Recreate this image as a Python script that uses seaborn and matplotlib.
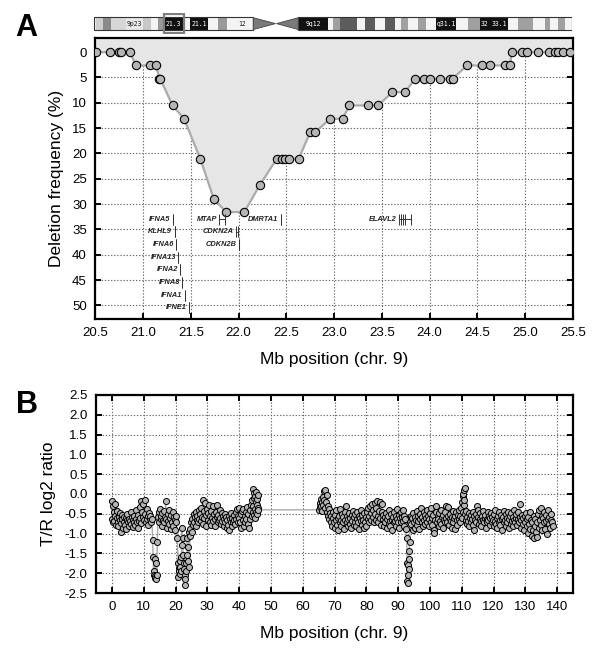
import numpy as np
import pandas as pd
import matplotlib
matplotlib.use("Agg")
import matplotlib.pyplot as plt
import seaborn as sns
from matplotlib.patches import Polygon, Rectangle
from matplotlib.ticker import FormatStrFormatter

# ---- panel A: deletion frequency across 9p21 ----
pos_a = [20.51, 20.65, 20.75, 20.77, 20.86, 20.93, 21.07, 21.14, 21.17, 21.18,
         21.31, 21.43, 21.60, 21.74, 21.87, 22.06, 22.22, 22.40, 22.45, 22.49,
         22.53, 22.63, 22.75, 22.80, 22.96, 23.09, 23.16, 23.35, 23.46, 23.61,
         23.74, 23.85, 23.94, 24.00, 24.11, 24.21, 24.24, 24.39, 24.55, 24.63,
         24.79, 24.84, 24.86, 24.97, 25.02, 25.13, 25.25, 25.31, 25.34, 25.40,
         25.47]
freq_a = [0, 0, 0, 0, 0, 2.63, 2.63, 2.63, 5.26, 5.26,
          10.53, 13.16, 21.05, 28.95, 31.58, 31.58, 26.32, 21.05, 21.05, 21.05,
          21.05, 21.05, 15.79, 15.79, 13.16, 13.16, 10.53, 10.53, 10.53, 7.89,
          7.89, 5.26, 5.26, 5.26, 5.26, 5.26, 5.26, 2.63, 2.63, 2.63,
          2.63, 2.63, 0, 0, 0, 0, 0, 0, 0, 0,
          0]

gene_name = ["IFNA5", "KLHL9", "IFNA6", "IFNA13", "IFNA2", "IFNA8", "IFNA1", "IFNE1",
             "MTAP", "CDKN2A", "CDKN2B", "DMRTA1", "ELAVL2"]
gene_start = [21.31, 21.33, 21.35, 21.37, 21.39, 21.41, 21.44, 21.48,
              21.80, 21.97, 22.00, 22.44, 23.68]
gene_end = [21.31, 21.33, 21.35, 21.37, 21.39, 21.41, 21.44, 21.48,
            21.86, 21.99, 22.00, 22.44, 23.80]
gene_row = [33.0, 35.5, 38.0, 40.5, 43.0, 45.5, 48.0, 50.5,
            33.0, 35.5, 38.0, 33.0, 33.0]
elavl2_exons = [23.70, 23.72, 23.74]

# ---- chromosome 9 ideogram (drawing units along the bar) ----
band_start = [0, 6, 28, 50, 96, 148, 172, 193, 208, 212, 266, 288, 343, 373, 398, 428, 460,
              613, 703, 718, 738, 788, 813, 843, 873, 903, 923, 943, 973, 998, 1028, 1088,
              1123, 1158, 1188, 1243, 1273, 1318, 1353, 1368, 1393, 1413]
band_end = [6, 28, 50, 96, 148, 172, 193, 208, 212, 266, 288, 343, 373, 398, 428, 460, 478,
            703, 718, 738, 788, 813, 843, 873, 903, 923, 943, 973, 998, 1028, 1088, 1123,
            1158, 1188, 1243, 1273, 1318, 1353, 1368, 1393, 1413, 1435]
band_color = ["#f4f4f4", "#cfcfcf", "#8a8a8a", "#d6d6d6", "#e8e8e8", "#c8c8c8", "#f4f4f4",
              "#9a9a9a", "#f4f4f4", "#111111", "#f4f4f4", "#111111", "#f4f4f4", "#9a9a9a",
              "#f4f4f4", "#f4f4f4", "#f4f4f4",
              "#111111", "#f4f4f4", "#a0a0a0", "#5c5c5c", "#f4f4f4", "#5c5c5c", "#f4f4f4",
              "#5c5c5c", "#f4f4f4", "#a0a0a0", "#f4f4f4", "#a0a0a0", "#f4f4f4", "#111111",
              "#f4f4f4", "#a0a0a0", "#111111", "#111111", "#f4f4f4", "#a0a0a0", "#f4f4f4",
              "#a0a0a0", "#f4f4f4", "#a0a0a0", "#f4f4f4"]
band_label = ["", "", "", "", "9p23", "", "", "", "", "21.3", "", "21.1", "", "", "", "12", "",
              "9q12", "", "", "", "", "", "", "", "", "", "", "", "", "q31.1", "",
              "", "32", "33.1", "", "", "", "", "", "", ""]
p_arm_end = 478
q_arm_start = 613
ideo_end = 1435

# ---- panel B: whole chromosome 9 log2 ratios ----
seg_p1 = [(0.0, -0.18), (0.1, -0.62), (0.3, -0.30), (0.4, -0.72), (0.6, -0.45), (0.8, -0.68),
          (1.0, -0.25), (1.1, -0.55), (1.3, -0.78), (1.5, -0.60), (1.7, -0.42), (1.9, -0.70),
          (2.0, -0.82), (2.2, -0.58), (2.4, -0.65), (2.6, -0.48), (2.8, -0.74), (3.0, -0.95),
          (3.1, -0.52), (3.3, -0.63), (3.5, -0.85), (3.7, -0.70), (3.9, -0.57), (4.1, -0.78),
          (4.3, -0.60), (4.5, -0.88), (4.7, -0.66), (4.9, -0.50), (5.1, -0.72), (5.3, -0.62),
          (5.5, -0.80), (5.7, -0.68), (5.9, -0.45), (6.1, -0.75), (6.3, -0.58), (6.5, -0.84),
          (6.7, -0.66), (6.9, -0.72), (7.1, -0.55), (7.3, -0.79), (7.5, -0.63), (7.7, -0.40),
          (7.9, -0.70), (8.1, -0.86), (8.3, -0.52), (8.5, -0.68), (8.7, -0.33), (8.9, -0.60),
          (9.1, -0.18), (9.3, -0.74), (9.5, -0.45), (9.7, -0.26), (9.9, -0.58), (10.1, -0.66),
          (10.3, -0.15), (10.5, -0.50), (10.7, -0.72), (10.9, -0.38), (11.1, -0.62), (11.3, -0.55),
          (11.5, -0.78), (11.7, -0.48), (11.9, -0.64), (12.1, -0.56), (12.3, -0.70)]
dip_1 = [(12.6, -0.62), (12.8, -1.15), (13.0, -1.60), (13.1, -1.95), (13.2, -2.05), (13.4, -1.65),
         (13.5, -2.08), (13.7, -2.12), (13.8, -2.15), (14.0, -1.75), (14.1, -2.05), (14.3, -1.20),
         (14.5, -0.58)]
seg_p2 = [(14.7, -0.45), (14.9, -0.70), (15.1, -0.38), (15.3, -0.62), (15.5, -0.55), (15.7, -0.80),
          (15.9, -0.48), (16.1, -0.66), (16.3, -0.42), (16.5, -0.72), (16.7, -0.58), (16.9, -0.17),
          (17.1, -0.62), (17.3, -0.85), (17.5, -0.50), (17.7, -0.68), (17.9, -0.40), (18.1, -0.75),
          (18.3, -0.60), (18.5, -0.88), (18.7, -0.52), (18.9, -0.70), (19.1, -0.46), (19.3, -0.82),
          (19.5, -0.58), (19.7, -0.66), (19.9, -0.90), (20.1, -0.55), (20.3, -0.72)]
dip_2 = [(20.6, -1.10), (20.8, -1.75), (20.9, -2.10), (21.0, -1.88), (21.2, -1.95), (21.3, -2.02),
         (21.4, -1.70), (21.5, -1.85), (21.7, -1.60), (21.8, -1.95), (22.0, -0.85), (22.1, -1.30),
         (22.3, -1.10), (22.4, -1.55), (22.6, -1.75), (22.7, -1.90), (22.9, -2.05), (23.0, -2.30),
         (23.1, -2.15), (23.3, -1.95), (23.4, -1.75), (23.6, -1.55), (23.7, -1.10), (23.9, -1.70),
         (24.0, -1.35), (24.2, -0.95), (24.4, -1.85), (24.5, -1.05), (24.7, -0.88), (24.9, -0.70)]
seg_p3 = [(25.1, -0.95), (25.3, -0.62), (25.5, -0.78), (25.7, -0.50), (25.9, -0.70), (26.1, -0.58),
          (26.3, -0.82), (26.5, -0.45), (26.7, -0.66), (26.9, -0.55), (27.1, -0.72), (27.3, -0.40),
          (27.5, -0.62), (27.7, -0.50), (27.9, -0.68), (28.1, -0.35), (28.3, -0.58), (28.5, -0.15),
          (28.7, -0.75), (28.9, -0.42), (29.1, -0.60), (29.3, -0.22), (29.5, -0.52), (29.7, -0.80),
          (29.9, -0.38), (30.1, -0.65), (30.3, -0.48), (30.5, -0.28), (30.7, -0.70), (30.9, -0.55),
          (31.1, -0.42), (31.3, -0.78), (31.5, -0.60), (31.7, -0.30), (31.9, -0.68), (32.1, -0.50),
          (32.3, -0.62), (32.5, -0.82), (32.7, -0.45), (32.9, -0.58), (33.1, -0.28), (33.3, -0.72),
          (33.5, -0.52), (33.7, -0.65), (33.9, -0.40), (34.1, -0.60), (34.3, -0.75), (34.5, -0.48),
          (34.7, -0.68), (34.9, -0.55), (35.1, -0.82), (35.3, -0.62), (35.5, -0.50), (35.7, -0.70),
          (35.9, -0.58), (36.1, -0.85), (36.3, -0.66), (36.5, -0.78), (36.7, -0.55), (36.9, -0.90),
          (37.1, -0.62), (37.3, -0.72), (37.5, -0.48), (37.7, -0.80), (37.9, -0.60), (38.1, -0.70),
          (38.3, -0.52), (38.5, -0.65), (38.7, -0.75), (38.9, -0.45), (39.1, -0.62), (39.3, -0.38),
          (39.5, -0.70), (39.7, -0.55), (39.9, -0.60), (40.1, -0.35), (40.3, -0.72), (40.5, -0.50),
          (40.7, -0.85), (40.9, -0.42), (41.1, -0.66), (41.3, -0.38), (41.5, -0.80), (41.7, -0.55),
          (41.9, -0.70), (42.1, -0.45), (42.3, -0.62), (42.5, -0.32), (42.7, -0.75), (42.9, -0.50),
          (43.1, -0.85), (43.3, -0.40), (43.5, -0.62), (43.7, -0.28), (43.9, -0.55), (44.1, -0.15),
          (44.3, -0.45), (44.4, 0.12), (44.5, -0.30), (44.6, 0.02), (44.7, -0.52), (44.8, -0.10),
          (44.9, -0.38), (45.0, -0.05), (45.1, -0.60), (45.2, -0.20), (45.3, -0.45), (45.4, 0.05),
          (45.5, -0.28), (45.6, -0.12), (45.7, -0.50), (45.8, -0.02), (45.9, -0.35), (46.0, -0.40)]
seg_q1 = [(65.2, -0.40), (65.3, -0.22), (65.5, -0.32), (65.6, -0.12), (65.8, -0.30), (66.0, -0.20),
          (66.1, -0.42), (66.3, -0.08), (66.5, -0.28), (66.6, -0.15), (66.8, 0.08), (67.0, -0.35),
          (67.1, 0.10), (67.3, -0.20), (67.5, -0.45), (67.6, -0.02), (67.8, -0.30), (68.0, -0.55),
          (68.2, -0.38), (68.4, -0.62), (68.6, -0.48), (68.8, -0.72), (69.0, -0.55), (69.2, -0.80),
          (69.4, -0.60), (69.6, -0.45), (69.8, -0.70), (70.0, -0.85), (70.2, -0.52), (70.4, -0.65),
          (70.6, -0.40), (70.8, -0.78), (71.0, -0.60), (71.2, -0.90), (71.4, -0.55), (71.6, -0.72),
          (71.8, -0.38), (72.0, -0.66), (72.2, -0.82), (72.4, -0.50), (72.6, -0.70), (72.8, -0.58),
          (73.0, -0.88), (73.2, -0.45), (73.4, -0.65), (73.6, -0.30), (73.8, -0.72), (74.0, -0.55),
          (74.2, -0.80), (74.4, -0.62), (74.6, -0.48), (74.8, -0.75), (75.0, -0.60), (75.2, -0.85),
          (75.4, -0.52), (75.6, -0.68), (75.8, -0.42), (76.0, -0.78), (76.2, -0.58), (76.4, -0.70),
          (76.6, -0.50), (76.8, -0.82), (77.0, -0.62), (77.2, -0.45), (77.4, -0.72), (77.6, -0.55),
          (77.8, -0.88), (78.0, -0.60), (78.2, -0.40), (78.4, -0.68), (78.6, -0.78), (78.8, -0.52),
          (79.0, -0.65), (79.2, -0.85), (79.4, -0.48), (79.6, -0.70), (79.8, -0.58), (80.0, -0.80),
          (80.2, -0.45), (80.4, -0.62), (80.6, -0.35), (80.8, -0.72), (81.0, -0.55), (81.2, -0.30),
          (81.4, -0.66), (81.6, -0.48), (81.8, -0.25), (82.0, -0.58), (82.2, -0.40), (82.4, -0.72),
          (82.6, -0.22), (82.8, -0.50), (83.0, -0.65), (83.2, -0.35), (83.4, -0.18), (83.6, -0.55),
          (83.8, -0.70), (84.0, -0.42), (84.2, -0.20), (84.4, -0.60), (84.6, -0.78), (84.8, -0.45),
          (85.0, -0.25), (85.2, -0.62), (85.4, -0.52), (85.6, -0.80), (85.8, -0.58), (86.0, -0.70),
          (86.2, -0.48), (86.4, -0.85), (86.6, -0.62), (86.8, -0.55), (87.0, -0.75), (87.2, -0.40),
          (87.4, -0.68), (87.6, -0.82), (87.8, -0.50), (88.0, -0.65), (88.2, -0.92), (88.4, -0.58),
          (88.6, -0.72), (88.8, -0.45), (89.0, -0.68), (89.2, -0.55), (89.4, -0.80), (89.6, -0.62),
          (89.8, -0.38), (90.0, -0.70), (90.2, -0.52), (90.4, -0.85), (90.6, -0.60), (90.8, -0.45),
          (91.0, -0.72), (91.2, -0.58), (91.4, -0.40), (91.6, -0.68), (91.8, -0.80), (92.0, -0.55),
          (92.2, -0.62), (92.4, -0.88)]
dip_3 = [(92.7, -1.10), (92.8, -1.75), (92.9, -2.20), (93.0, -2.05), (93.1, -1.80), (93.2, -2.25),
         (93.3, -1.90), (93.4, -1.65), (93.5, -1.45), (93.6, -1.20), (93.8, -0.70)]
seg_q2 = [(94.0, -0.55), (94.2, -0.75), (94.4, -0.60), (94.6, -0.90), (94.8, -0.48), (95.0, -0.70),
          (95.2, -0.85), (95.4, -0.58), (95.6, -0.65), (95.8, -0.42), (96.0, -0.78), (96.2, -0.55),
          (96.4, -0.68), (96.6, -0.88), (96.8, -0.50), (97.0, -0.62), (97.2, -0.35), (97.4, -0.72),
          (97.6, -0.58), (97.8, -0.80), (98.0, -0.45), (98.2, -0.66), (98.4, -0.52), (98.6, -0.75),
          (98.8, -0.60), (99.0, -0.40), (99.2, -0.70), (99.4, -0.55), (99.6, -0.82), (99.8, -0.62),
          (100.0, -0.48), (100.2, -0.72), (100.4, -0.35), (100.6, -0.60), (100.8, -0.78), (101.0, -0.52),
          (101.2, -0.90), (101.4, -0.98), (101.6, -0.65), (101.8, -0.45), (102.0, -0.30), (102.2, -0.70),
          (102.4, -0.55), (102.6, -0.62), (102.8, -0.80), (103.0, -0.48), (103.2, -0.68), (103.4, -0.40),
          (103.6, -0.75), (103.8, -0.58), (104.0, -0.85), (104.2, -0.52), (104.4, -0.65), (104.6, -0.72),
          (104.8, -0.45), (105.0, -0.60), (105.2, -0.30), (105.4, -0.70), (105.6, -0.55), (105.8, -0.32),
          (106.0, -0.78), (106.2, -0.62), (106.4, -0.50), (106.6, -0.68), (106.8, -0.85), (107.0, -0.58),
          (107.2, -0.42), (107.4, -0.72), (107.6, -0.60), (107.8, -0.88), (108.0, -0.55), (108.2, -0.45),
          (108.4, -0.66), (108.6, -0.78), (108.8, -0.52), (109.0, -0.62), (109.2, -0.40), (109.4, -0.70),
          (109.6, -0.55), (109.8, -0.35), (110.0, -0.60), (110.2, -0.20), (110.3, -0.05), (110.4, -0.45),
          (110.5, 0.00), (110.6, -0.28), (110.7, 0.10), (110.8, -0.15), (110.9, 0.15), (111.0, -0.50),
          (111.2, -0.65), (111.4, -0.42), (111.6, -0.75), (111.8, -0.58), (112.0, -0.68), (112.2, -0.48),
          (112.4, -0.82), (112.6, -0.60), (112.8, -0.52), (113.0, -0.72), (113.2, -0.62), (113.4, -0.45),
          (113.6, -0.78), (113.8, -0.55), (114.0, -0.90), (114.2, -0.65), (114.4, -0.50), (114.6, -0.70),
          (114.8, -0.30), (115.0, -0.58), (115.2, -0.40), (115.4, -0.75), (115.6, -0.62), (115.8, -0.48),
          (116.0, -0.68), (116.2, -0.80), (116.4, -0.55), (116.6, -0.65), (116.8, -0.42), (117.0, -0.72),
          (117.2, -0.60), (117.4, -0.52), (117.6, -0.85), (117.8, -0.62), (118.0, -0.70), (118.2, -0.45),
          (118.4, -0.66), (118.6, -0.55), (118.8, -0.78), (119.0, -0.60), (119.2, -0.48), (119.4, -0.72),
          (119.6, -0.58), (119.8, -0.65), (120.0, -0.82), (120.2, -0.50), (120.4, -0.68), (120.6, -0.40),
          (120.8, -0.75), (121.0, -0.60), (121.2, -0.85), (121.4, -0.55), (121.6, -0.70), (121.8, -0.45),
          (122.0, -0.65), (122.2, -0.78), (122.4, -0.52), (122.6, -0.62), (122.8, -0.90), (123.0, -0.58),
          (123.2, -0.42), (123.4, -0.72), (123.6, -0.66), (123.8, -0.50), (124.0, -0.80), (124.2, -0.60),
          (124.4, -0.70), (124.6, -0.45), (124.8, -0.85), (125.0, -0.62), (125.2, -0.55), (125.4, -0.75),
          (125.6, -0.48), (125.8, -0.68), (126.0, -0.58), (126.2, -0.82), (126.4, -0.65), (126.6, -0.40),
          (126.8, -0.72), (127.0, -0.60), (127.2, -0.50), (127.4, -0.78), (127.6, -0.62), (127.8, -0.45),
          (128.0, -0.70), (128.2, -0.25), (128.4, -0.58), (128.6, -0.85), (128.8, -0.66), (129.0, -0.52),
          (129.2, -0.75), (129.4, -0.60), (129.6, -0.92), (129.8, -0.55), (130.0, -0.70), (130.2, -0.48),
          (130.4, -0.82), (130.6, -0.62), (130.8, -0.98), (131.0, -0.58), (131.2, -0.75), (131.4, -0.45),
          (131.6, -0.88), (131.8, -0.66), (132.0, -1.05), (132.2, -0.72), (132.4, -0.90), (132.6, -0.55),
          (132.8, -1.10), (133.0, -0.80), (133.2, -0.62), (133.4, -0.95), (133.6, -1.08), (133.8, -0.70),
          (134.0, -0.50), (134.2, -0.85), (134.4, -0.40), (134.6, -0.65), (134.8, -0.35), (135.0, -0.78),
          (135.2, -0.55), (135.4, -0.92), (135.6, -0.60), (135.8, -0.45), (136.0, -0.72), (136.2, -0.88),
          (136.4, -0.52), (136.6, -0.68), (136.8, -1.00), (137.0, -0.62), (137.2, -0.40), (137.4, -0.75),
          (137.6, -0.58), (137.8, -0.85), (138.0, -0.65), (138.2, -0.50), (138.4, -0.70), (138.6, -0.80)]


sns.set_style("ticks")
plt.rcParams["font.family"] = ["Liberation Sans", "DejaVu Sans"]
plt.rcParams["axes.unicode_minus"] = False
plt.rcParams["text.color"] = "black"
plt.rcParams["axes.labelcolor"] = "black"

fig = plt.figure(figsize=(6, 6.56), dpi=100)

point_face = "#b5b5b5"
line_gray = "#ababab"


def style_axes(ax):
    ax.grid(True, linestyle=(0, (1.2, 1.6)), color="#6a6a6a", linewidth=0.8)
    ax.set_axisbelow(True)
    ax.tick_params(direction="in", top=True, right=True, length=4, width=1.4,
                   labelsize=9.5, pad=6, colors="black")
    for sp in ax.spines.values():
        sp.set_linewidth(1.6)
        sp.set_color("black")


# ---------- ideogram ----------
ax_i = fig.add_axes([0.1567, 0.948, 0.7967, 0.032])
ax_i.barh(0.5, np.array(band_end) - np.array(band_start), left=band_start, height=1,
          color=band_color, edgecolor="none")
for s, e, c, lab in zip(band_start, band_end, band_color, band_label):
    if lab:
        tc = "white" if c == "#111111" else "#222222"
        ax_i.text((s + e) / 2, 0.5, lab, ha="center", va="center", fontsize=4.7,
                  color=tc, family="DejaVu Sans Mono")
ax_i.add_patch(Rectangle((0, 0), p_arm_end, 1, fill=False, ec="#333333", lw=0.8))
ax_i.add_patch(Rectangle((q_arm_start, 0), ideo_end - q_arm_start, 1, fill=False,
                         ec="#333333", lw=0.8))
ax_i.add_patch(Polygon([(p_arm_end, 0.05), (p_arm_end, 0.95), (545, 0.5)],
                       closed=True, fc="#7a7a7a", ec="#444444", lw=0.6))
ax_i.add_patch(Polygon([(548, 0.5), (q_arm_start, 0.05), (q_arm_start, 0.95)],
                       closed=True, fc="#7a7a7a", ec="#444444", lw=0.6))
ax_i.add_patch(Rectangle((209, -0.25), 60, 1.5, fill=False, ec="#7d7d7d", lw=1.6))
ax_i.set_xlim(0, ideo_end)
ax_i.set_ylim(-0.3, 1.3)
ax_i.axis("off")

# ---------- panel A ----------
ax_a = fig.add_axes([0.1587, 0.5137, 0.7963, 0.4284])
df_a = pd.DataFrame({"pos": pos_a, "freq": freq_a})
xa0, xa1 = 20.5, 25.5
ya_top, ya_bot = -2.8, 52.7
ax_a.fill_between(np.r_[xa0, df_a["pos"], xa1], ya_top,
                  np.r_[df_a["freq"].iloc[0], df_a["freq"], df_a["freq"].iloc[-1]],
                  color="#e6e6e6", zorder=1, lw=0)
sns.lineplot(data=df_a, x="pos", y="freq", ax=ax_a, color=line_gray, lw=1.6,
             estimator=None, sort=False, zorder=3)
sns.scatterplot(data=df_a, x="pos", y="freq", ax=ax_a, s=36, color=point_face,
                edgecolor="black", linewidth=0.8, zorder=4, legend=False, clip_on=True)

for name, s, e, r in zip(gene_name, gene_start, gene_end, gene_row):
    ax_a.vlines([s, e], r - 1.1, r + 1.1, color="#333333", lw=0.7, zorder=5)
    if e > s:
        ax_a.hlines(r, s, e, color="#333333", lw=0.7, zorder=5)
    if name == "ELAVL2":
        ax_a.vlines(elavl2_exons, r - 1.1, r + 1.1, color="#333333", lw=0.7, zorder=5)
    ax_a.text(s - 0.025, r, name, ha="right", va="center", fontsize=5.3,
              style="italic", weight="bold", color="#222222", zorder=5)

ax_a.set_xlim(xa0, xa1)
ax_a.set_ylim(ya_bot, ya_top)
ax_a.set_xticks(np.arange(20.5, 25.51, 0.5))
ax_a.set_yticks(np.arange(0, 51, 5))
ax_a.xaxis.set_major_formatter(FormatStrFormatter("%.1f"))
style_axes(ax_a)
ax_a.set_xlabel("Mb position (chr. 9)", fontsize=12.5, labelpad=9)
ax_a.set_ylabel("Deletion frequency (%)", fontsize=12.5, labelpad=6)

# ---------- panel B ----------
ax_b = fig.add_axes([0.16, 0.096, 0.795, 0.302])
df_b = pd.DataFrame(seg_p1 + dip_1 + seg_p2 + dip_2 + seg_p3 + seg_q1 + dip_3 + seg_q2,
                    columns=["pos", "ratio"])
sns.lineplot(data=df_b, x="pos", y="ratio", ax=ax_b, color=line_gray, lw=1.0,
             estimator=None, sort=False, zorder=3)
sns.scatterplot(data=df_b, x="pos", y="ratio", ax=ax_b, s=19, color=point_face,
                edgecolor="black", linewidth=0.7, zorder=4, legend=False)
ax_b.set_xlim(-5, 145)
ax_b.set_ylim(-2.5, 2.5)
ax_b.set_xticks(np.arange(0, 141, 10))
ax_b.set_yticks(np.arange(-2.5, 2.51, 0.5))
ax_b.yaxis.set_major_formatter(FormatStrFormatter("%.1f"))
style_axes(ax_b)
ax_b.set_xlabel("Mb position (chr. 9)", fontsize=12.5, labelpad=9)
ax_b.set_ylabel("T/R log2 ratio", fontsize=12.5, labelpad=6)

fig.text(0.044, 0.957, "A", fontsize=22, weight="bold", ha="center", va="center")
fig.text(0.045, 0.383, "B", fontsize=22, weight="bold", ha="center", va="center")

fig.savefig("out.png", dpi=100)
